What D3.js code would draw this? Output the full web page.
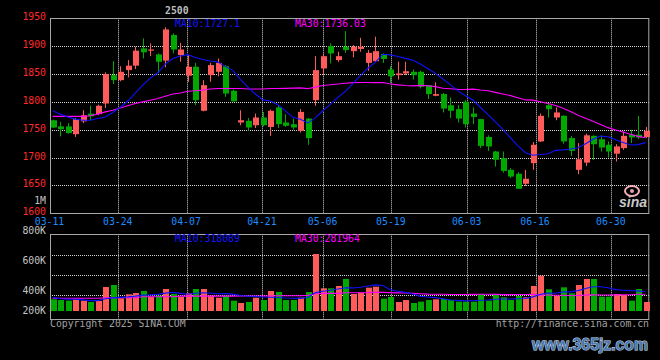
<!DOCTYPE html>
<html><head><meta charset="utf-8">
<script src="https://cdn.jsdelivr.net/npm/d3@7/dist/d3.min.js"></script>
<style>html,body{margin:0;padding:0;background:#000;}svg{display:block;}</style>
</head><body>
<svg id="c" width="660" height="360"></svg>
<script>
const dates = ["03-11","03-12","03-13","03-14","03-17","03-18","03-19","03-20","03-21","03-24","03-25","03-26","03-27","03-28","03-31",
"04-01","04-02","04-03","04-07","04-08","04-09","04-10","04-11","04-14","04-15","04-16","04-17","04-18","04-21","04-22","04-23","04-24","04-25","04-28","04-29","04-30",
"05-06","05-07","05-08","05-09","05-12","05-13","05-14","05-15","05-16","05-19","05-20","05-21","05-22","05-23","05-26","05-27","05-28","05-29","05-30",
"06-03","06-04","06-05","06-06","06-09","06-10","06-11","06-12","06-13","06-16","06-17","06-18","06-19","06-20","06-23","06-24","06-25","06-26","06-27","06-30",
"07-01","07-02","07-03","07-04","07-07"];
const openP  = [1767,1756,1756,1742,1765,1779,1778,1797,1848,1839,1857,1865,1896,1892,1885,1874,1920,1884,1847,1863,
1784,1848,1854,1864,1820,1763,1766,1758,1772,1755,1790,1763,1760,1748,1770,1803,1860,1900,1875,1899,
1891,1895,1870,1873,1886,1858,1848,1851,1854,1854,1830,1811,1814,1794,1787,1800,1779,1769,1737,1711,
1699,1678,1671,1653,1690,1729,1794,1772,1775,1735,1678,1691,1739,1733,1723,1707,1717,1741,1741,1737];
const closeP = [1754,1751,1744,1769,1776,1774,1793,1850,1839,1854,1865,1892,1889,1894,1872,1930,1894,1894,1863,1803,
1830,1866,1870,1815,1801,1767,1754,1772,1758,1784,1760,1757,1754,1782,1735,1857,1882,1887,1882,1893,
1899,1899,1888,1891,1877,1846,1851,1855,1848,1827,1814,1814,1788,1784,1770,1760,1773,1721,1720,1696,
1676,1666,1644,1662,1723,1775,1787,1781,1729,1712,1697,1740,1724,1718,1711,1720,1739,1736,1736,1748];
const highP  = [1768,1764,1762,1771,1785,1793,1795,1853,1873,1864,1875,1899,1914,1905,1887,1934,1923,1906,1884,1870,
1839,1870,1878,1866,1822,1785,1771,1779,1782,1786,1793,1778,1770,1787,1771,1882,1887,1905,1890,1927,
1902,1915,1893,1917,1887,1864,1872,1872,1858,1856,1830,1835,1816,1808,1794,1803,1790,1769,1740,1712,
1711,1681,1674,1678,1728,1779,1798,1790,1776,1739,1726,1743,1740,1740,1729,1724,1747,1750,1775,1755];
const lowP   = [1753,1738,1743,1737,1762,1767,1776,1789,1832,1837,1844,1859,1878,1882,1852,1862,1887,1872,1836,1794,
1783,1836,1846,1809,1800,1758,1748,1753,1756,1739,1753,1755,1750,1745,1723,1793,1848,1869,1872,1888,
1880,1890,1856,1872,1870,1834,1840,1848,1840,1824,1805,1810,1781,1771,1763,1754,1760,1717,1712,1684,
1673,1663,1644,1649,1678,1728,1772,1767,1725,1703,1670,1685,1696,1711,1700,1693,1714,1726,1733,1735];
const volume = [208000,198000,189000,208000,189000,170000,184000,382000,411000,222000,279000,297000,326000,245000,260000,354000,283000,241000,293000,354000,
354000,260000,231000,260000,189000,156000,170000,231000,198000,326000,312000,198000,198000,231000,312000,850000,364000,364000,397000,496000,
283000,302000,373000,387000,217000,241000,170000,198000,156000,175000,198000,208000,212000,198000,175000,175000,175000,283000,189000,283000,
236000,198000,255000,236000,397000,542000,350000,255000,378000,293000,411000,496000,496000,245000,245000,283000,269000,189000,354000,170000];
const ma10Head = [1784,1778,1773,1769,1767,1767,1770,1773,1781];
const ma30Head = [1774,1774,1774,1774,1774,1775,1778,1782,1785,1789,1793,1797,1800,1803,1806,1810,1814,1816,1819,1820,1821,1823,1824,1824,1824,1824,1823,1823,1823];
const volMa10Head = [236000,215000,208000,208000,200000,189000,189000,215000,228000];
const volMa30Head = [222000,222000,222000,222000,222000,222000,222000,230000,230000,230000,230000,230000,245000,245000,245000,245000,245000,253000,253000,253000,253000,253000,253000,253000,253000,255000,255000,255000,255000];
const priceTicks = [1950,1900,1850,1800,1750,1700,1650,1600];
const volTicks = [800000,600000,400000,200000];
const volTickLabels = ["800K","600K","400K","200K"];
const tickDates = ["03-11","03-24","04-07","04-21","05-06","05-19","06-03","06-16","06-30"];
const legendPrice = ["MA10:1727.1","MA30:1736.03"];
const legendVol = ["MA10:318089","MA30:281964"];

const svg = d3.select("#c");
svg.append("rect").attr("width",660).attr("height",360).attr("fill","#000");

const L = 50, R = 649.3, PT = 18.3, PB = 213.3, VT = 234.3, VB = 318.7;
const RED = "#ff5b5b", GREEN = "#00a800", GRID = "#d4d4d4", FRAME = "#a8a8a8";
const MONO = "'DejaVu Sans Mono', monospace";

const x = d3.scaleBand().domain(dates).range([49, 649.3]);
const cx = d => x(d) + x.bandwidth()/2;
const gridX = d3.scaleLinear().domain([0, dates.length - 1]).range([L, R]);
const y = d3.scaleLinear().domain([1600, 1950]).range([PB, PT]);
const yVol = d3.scaleLinear().domain([0, 1128700]).range([314, VT]);
const volAxis = d3.scaleLinear().domain([0, 800000]).range([315.6, VT]);
const volFloor = 42000;

function ma(vals, n, head) {
  return vals.map((v, i) => i < head.length ? head[i] : d3.mean(vals.slice(i - n + 1, i + 1)));
}
const data = dates.map((d, i) => ({d, o: openP[i], c: closeP[i], h: highP[i], l: lowP[i], v: volume[i], up: closeP[i] >= openP[i]}));
const ma10 = ma(closeP, 10, ma10Head), ma30 = ma(closeP, 30, ma30Head);
const vma10 = ma(volume, 10, volMa10Head), vma30 = ma(volume, 30, volMa30Head);

// grid lines
const g = svg.append("g");
priceTicks.filter(t => t > 1600 && t < 1950).forEach(t => {
  g.append("line").attr("x1", L).attr("x2", R).attr("y1", Math.round(y(t)) + 0.5).attr("y2", Math.round(y(t)) + 0.5)
   .attr("stroke", GRID).attr("stroke-dasharray", "1,1");
});
volTicks.filter(t => t < 800000).forEach(t => {
  g.append("line").attr("x1", L).attr("x2", R).attr("y1", Math.round(volAxis(t)) + 0.5).attr("y2", Math.round(volAxis(t)) + 0.5)
   .attr("stroke", GRID).attr("stroke-dasharray", "1,1");
});
tickDates.forEach(td => {
  const gx = Math.round(gridX(dates.indexOf(td))) + 0.5;
  if (gx > L + 2) {
    g.append("line").attr("x1", gx).attr("x2", gx).attr("y1", PT).attr("y2", PB).attr("stroke", GRID).attr("stroke-dasharray", "1,1");
    g.append("line").attr("x1", gx).attr("x2", gx).attr("y1", VT).attr("y2", VB).attr("stroke", GRID).attr("stroke-dasharray", "1,1");
  }
});

// frames
svg.append("rect").attr("x", L + 0.5).attr("y", Math.round(PT) + 0.5).attr("width", R - L - 1).attr("height", Math.round(PB) - Math.round(PT))
  .attr("fill", "none").attr("stroke", FRAME);
svg.append("rect").attr("x", L + 0.5).attr("y", Math.round(VT) + 0.5).attr("width", R - L - 1).attr("height", Math.round(VB) - Math.round(VT))
  .attr("fill", "none").attr("stroke", FRAME);

// candles
const cg = svg.append("g");
data.forEach(p => {
  const col = p.up ? RED : GREEN;
  const xc = Math.round(cx(p.d));
  cg.append("line").attr("x1", xc + 0.5).attr("x2", xc + 0.5).attr("y1", y(p.h)).attr("y2", y(p.l)).attr("stroke", col);
  const top = y(Math.max(p.o, p.c)), bot = y(Math.min(p.o, p.c));
  cg.append("rect").attr("x", xc - 2).attr("width", 6).attr("y", top).attr("height", Math.max(1.2, bot - top)).attr("fill", col);
});

// volume bars
const vg = svg.append("g");
data.forEach(p => {
  const xc = Math.round(cx(p.d));
  const top = yVol(p.v), base = yVol(volFloor);
  vg.append("rect").attr("x", xc - 2).attr("width", 6).attr("y", top).attr("height", base - top).attr("fill", p.up ? RED : GREEN);
});

// MA lines
const line = (sc) => d3.line().x((v, i) => cx(dates[i])).y(v => sc(v));
svg.append("path").attr("d", line(y)(ma30)).attr("fill", "none").attr("stroke", "#ff00ff").attr("stroke-width", 1.1);
svg.append("path").attr("d", line(y)(ma10)).attr("fill", "none").attr("stroke", "#1010ff").attr("stroke-width", 1.1);
svg.append("path").attr("d", line(yVol)(vma30)).attr("fill", "none").attr("stroke", "#ff00ff").attr("stroke-width", 1.1);
svg.append("path").attr("d", line(yVol)(vma10)).attr("fill", "none").attr("stroke", "#1010ff").attr("stroke-width", 1.1);

// axis labels
const tg = svg.append("g").attr("font-family", MONO).attr("font-size", "9.8px");
priceTicks.forEach(t => {
  tg.append("text").attr("x", 46).attr("y", y(t) - 1.5).attr("dy", "0.35em").attr("text-anchor", "end")
    .attr("fill", "#ff2a2a").text(t);
});
tg.append("text").attr("x", 46).attr("y", 200.7).attr("dy", "0.35em").attr("text-anchor", "end").attr("fill", "#c0c0c0").text("1M");
const volLabelShift = [-3.3, 6.4, 15.8, 15.5];
volTicks.forEach((t, i) => {
  tg.append("text").attr("x", 46).attr("y", volAxis(t) + volLabelShift[i]).attr("dy", "0.35em").attr("text-anchor", "end")
    .attr("fill", "#c4c4c4").text(volTickLabels[i]);
});
tickDates.forEach(td => {
  tg.append("text").attr("x", gridX(dates.indexOf(td)) - 0.5).attr("y", 224.5).attr("text-anchor", "middle")
    .attr("fill", "#1e8cff").text(td);
});

// legends
tg.append("text").attr("x", 175).attr("y", 27).attr("fill", "#1515ff").text(legendPrice[0]);
tg.append("text").attr("x", 295).attr("y", 27).attr("fill", "#ff00ff").text(legendPrice[1]);
tg.append("text").attr("x", 175).attr("y", 242).attr("fill", "#1515ff").text(legendVol[0]);
tg.append("text").attr("x", 295).attr("y", 242).attr("fill", "#ff00ff").text(legendVol[1]);
tg.append("text").attr("x", 165).attr("y", 13.5).attr("fill", "#bdbdbd").attr("font-weight", "bold").text("2500");
tg.append("text").attr("x", 50).attr("y", 326.5).attr("fill", "#a0a0a0").text("Copyright 2025 SINA.COM");
tg.append("text").attr("x", 649).attr("y", 326.5).attr("text-anchor", "end").attr("fill", "#a0a0a0").text("http://finance.sina.com.cn");

// sina logo watermark
const lg = svg.append("g");
lg.append("ellipse").attr("cx", 632).attr("cy", 191).attr("rx", 7).attr("ry", 5).attr("fill", "none").attr("stroke", "#f4b0b8").attr("stroke-width", 2);
lg.append("circle").attr("cx", 632).attr("cy", 191).attr("r", 2).attr("fill", "#e0a0a8");
lg.append("text").attr("x", 619).attr("y", 207).attr("font-family", "'Liberation Sans', Arial, sans-serif").attr("font-weight", "bold")
  .attr("font-style", "italic").attr("font-size", "14px").attr("fill", "#c8c8c8").text("sina");

// site watermark
svg.append("text").attr("x", 532).attr("y", 350)
  .attr("font-family", "'Liberation Sans', Arial, sans-serif").attr("font-weight", "bold").attr("font-size", "17px")
  .attr("textLength", 116).attr("lengthAdjust", "spacingAndGlyphs")
  .attr("fill", "#4a78b0").attr("stroke", "#d8e0ee").attr("stroke-width", 1).attr("paint-order", "stroke")
  .text("www.365jz.com");
</script>
</body></html>
